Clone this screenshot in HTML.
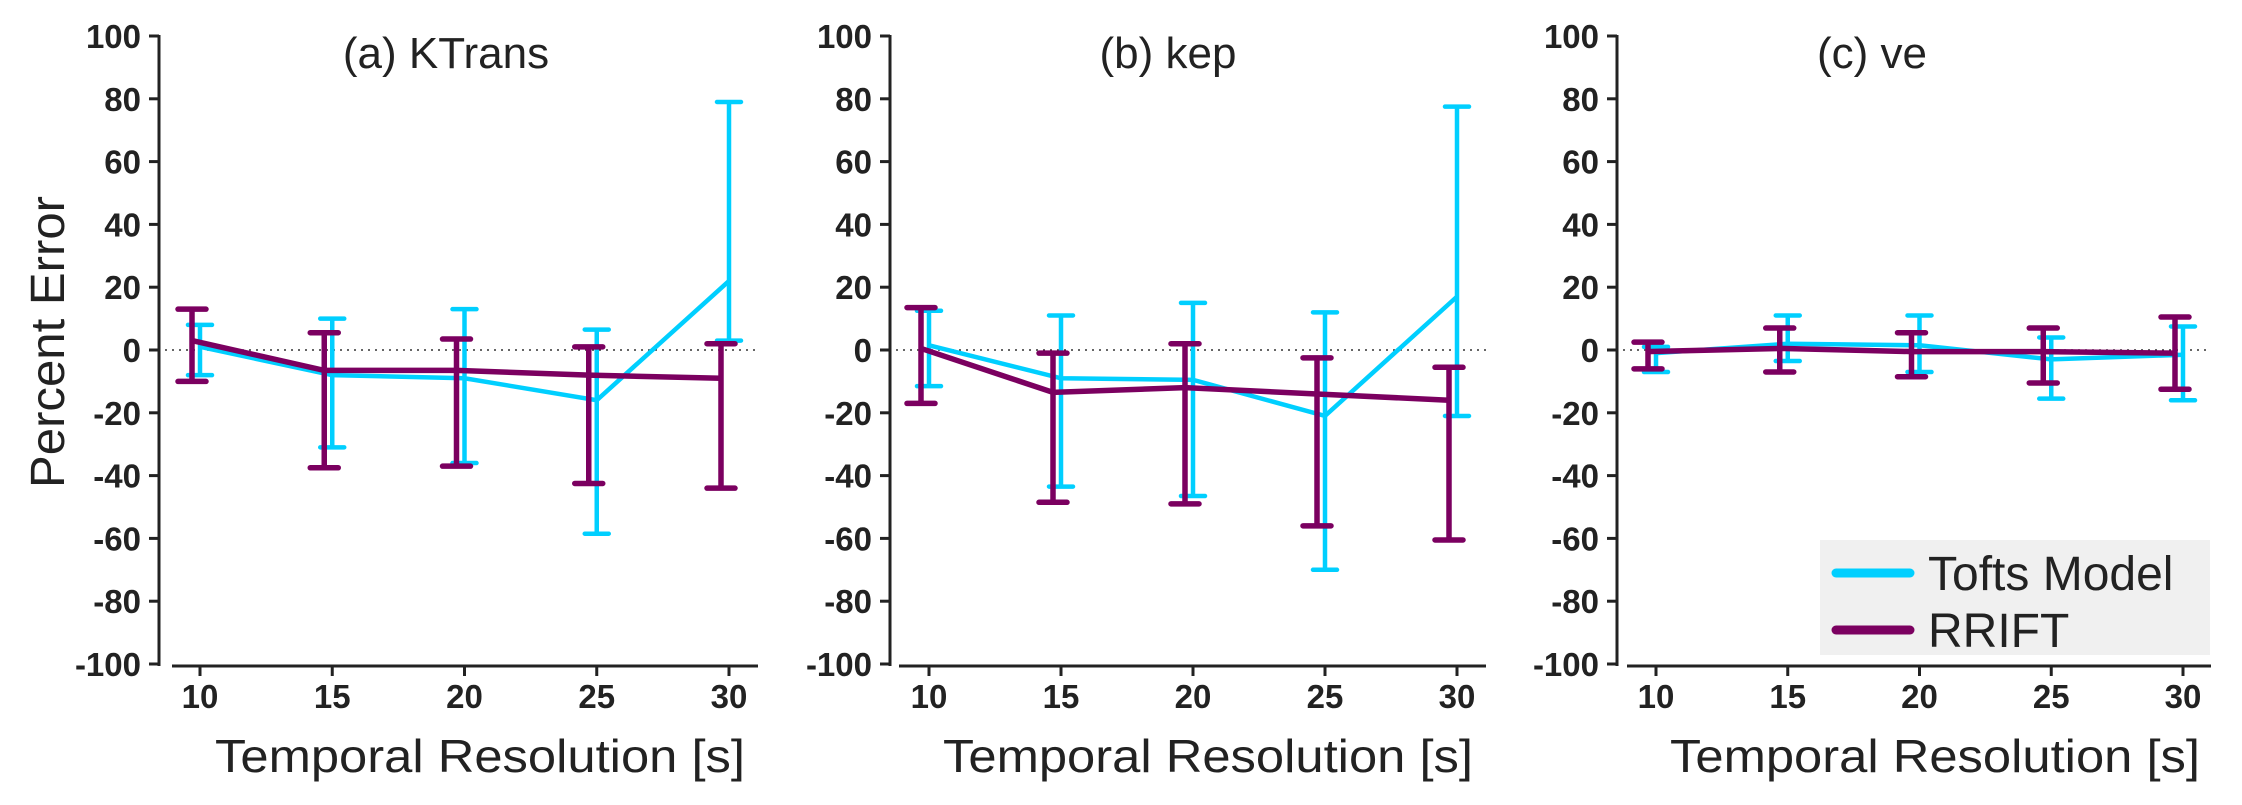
<!DOCTYPE html>
<html><head><meta charset="utf-8"><style>
html,body{margin:0;padding:0;background:#fff;}
svg text{font-family:"Liberation Sans","DejaVu Sans",sans-serif;fill:#222;}
</style></head><body>
<svg id="chart" width="2242" height="800" viewBox="0 0 2242 800" xmlns="http://www.w3.org/2000/svg"></svg>
<script>
const categories = [10, 15, 20, 25, 30];
const yTicks = [100, 80, 60, 40, 20, 0, -20, -40, -60, -80, -100];
const panelTitles = ["(a) KTrans", "(b) kep", "(c) ve"];
const toftsA = [1, -8, -9, -16, 22];
const toftsAHi = [8, 10, 13, 6.5, 79];
const toftsALo = [-8, -31, -36, -58.5, 3];
const rriftA = [3, -6.5, -6.5, -8, -9];
const rriftAHi = [13, 5.5, 3.5, 1, 2];
const rriftALo = [-10, -37.5, -37, -42.5, -44];
const toftsB = [1.5, -9, -9.5, -21, 17];
const toftsBHi = [12.5, 11, 15, 12, 77.5];
const toftsBLo = [-11.5, -43.5, -46.5, -70, -21];
const rriftB = [0.5, -13.5, -12, -14, -16];
const rriftBHi = [13.5, -1, 2, -2.5, -5.5];
const rriftBLo = [-17, -48.5, -49, -56, -60.5];
const toftsC = [-1, 2, 1.5, -3, -1.5];
const toftsCHi = [1, 11, 11, 4, 7.5];
const toftsCLo = [-7, -3.5, -7, -15.5, -16];
const rriftC = [-0.5, 0.5, -0.5, -0.5, -1];
const rriftCHi = [2.5, 7, 5.5, 7, 10.5];
const rriftCLo = [-6, -7, -8.5, -10.5, -12.5];

const NS = "http://www.w3.org/2000/svg";
const svg = document.getElementById("chart");
function mk(tag, attrs, parent) {
  const e = document.createElementNS(NS, tag);
  for (const k in attrs) e.setAttribute(k, attrs[k]);
  (parent || svg).appendChild(e);
  return e;
}
const panels = [
  {axisX:159, x10:200, x30:729, xa0:172, xa1:758, titleX:446, labX:480,
   series:[[toftsA,toftsAHi,toftsALo],[rriftA,rriftAHi,rriftALo]]},
  {axisX:890, x10:929, x30:1457, xa0:899, xa1:1486, titleX:1168, labX:1208,
   series:[[toftsB,toftsBHi,toftsBLo],[rriftB,rriftBHi,rriftBLo]]},
  {axisX:1617, x10:1656, x30:2183, xa0:1627, xa1:2211, titleX:1872, labX:1935,
   series:[[toftsC,toftsCHi,toftsCLo],[rriftC,rriftCHi,rriftCLo]]}
];
const Y100 = 36, YM100 = 664, XAXIS_Y = 666;
function yScale(v){ return Y100 + (100 - v) / 200 * (YM100 - Y100); }
const colors = ["#00cfff", "#7b0060"];
const widths = [4.5, 5.5];
const offsets = [0, -8];
const capW = [24, 28];
const seriesNames = ["tofts", "rrift"];

panels.forEach((p, pi) => {
  const g = mk("g", {});
  
  
  const xScale = c => p.x10 + (c - categories[0]) / (categories[categories.length-1] - categories[0]) * (p.x30 - p.x10);
  const ya = mk("line", {x1:p.axisX, y1:Y100-1, x2:p.axisX, y2:YM100+2, stroke:"#222", "stroke-width":3}, g);
  
  
  yTicks.forEach(t => {
    const y = yScale(t);
    mk("line", {x1:p.axisX-10, y1:y, x2:p.axisX, y2:y, stroke:"#222", "stroke-width":3}, g);
    const tl = mk("text", {x:p.axisX-18, y:y+12, "text-anchor":"end", "font-size":33, "font-weight":"bold"}, g);
    tl.textContent = t;
    
    
  });
  const xa = mk("line", {x1:p.xa0, y1:XAXIS_Y, x2:p.xa1, y2:XAXIS_Y, stroke:"#222", "stroke-width":3}, g);
  
  
  categories.forEach(c => {
    const x = xScale(c);
    mk("line", {x1:x, y1:XAXIS_Y, x2:x, y2:XAXIS_Y+10, stroke:"#222", "stroke-width":3}, g);
    const tl = mk("text", {x:x, y:708, "text-anchor":"middle", "font-size":33, "font-weight":"bold"}, g);
    tl.textContent = c;
    
    
  });
  const zl = mk("line", {x1:p.axisX+6, y1:yScale(0), x2:p.xa1, y2:yScale(0), stroke:"#333", "stroke-width":1.5, "stroke-dasharray":"2,5"}, g);
  
  
  const tt = mk("text", {x:p.titleX, y:68, "text-anchor":"middle", "font-size":44}, g);
  tt.textContent = panelTitles[pi];
  
  
  const xl = mk("text", {x:p.labX, y:772, "text-anchor":"middle", "font-size":46, textLength:530, lengthAdjust:"spacingAndGlyphs"}, g);
  xl.textContent = "Temporal Resolution [s]";
  
  
  p.series.forEach((s, si) => {
    const [mean, hi, lo] = s;
    const sg = mk("g", {}, g);
    
    
    categories.forEach((c, i) => {
      const x = xScale(c) + offsets[si];
      const eb = mk("path", {d:`M${x},${yScale(hi[i])}V${yScale(lo[i])}M${x-capW[si]/2},${yScale(hi[i])}h${capW[si]}M${x-capW[si]/2},${yScale(lo[i])}h${capW[si]}`,
        stroke:colors[si], "stroke-width":widths[si], fill:"none", "stroke-linecap":"round"}, sg);
      
      
    });
    const pts = categories.map((c, i) => (xScale(c) + offsets[si]) + "," + yScale(mean[i])).join(" ");
    const pl = mk("polyline", {points:pts, stroke:colors[si], "stroke-width":widths[si], fill:"none"}, sg);
    
    
  });
});
const yl = mk("text", {x:0, y:0, transform:"translate(64,342) rotate(-90)", "text-anchor":"middle", "font-size":48, textLength:292, lengthAdjust:"spacingAndGlyphs"}, svg);
yl.textContent = "Percent Error";


const lg = mk("g", {});


mk("rect", {x:1820, y:540, width:390, height:115, fill:"#f0f0f0"}, lg);
["Tofts Model", "RRIFT"].forEach((n, i) => {
  const y = 573 + i * 57;
  const e = mk("g", {}, lg);
  
  
  mk("line", {x1:1836, y1:y, x2:1910, y2:y, stroke:colors[i], "stroke-width":9, "stroke-linecap":"round"}, e);
  const t = mk("text", {x:1928, y:y+17, "font-size":48}, e);
  t.textContent = n;
});
</script>
</body></html>
